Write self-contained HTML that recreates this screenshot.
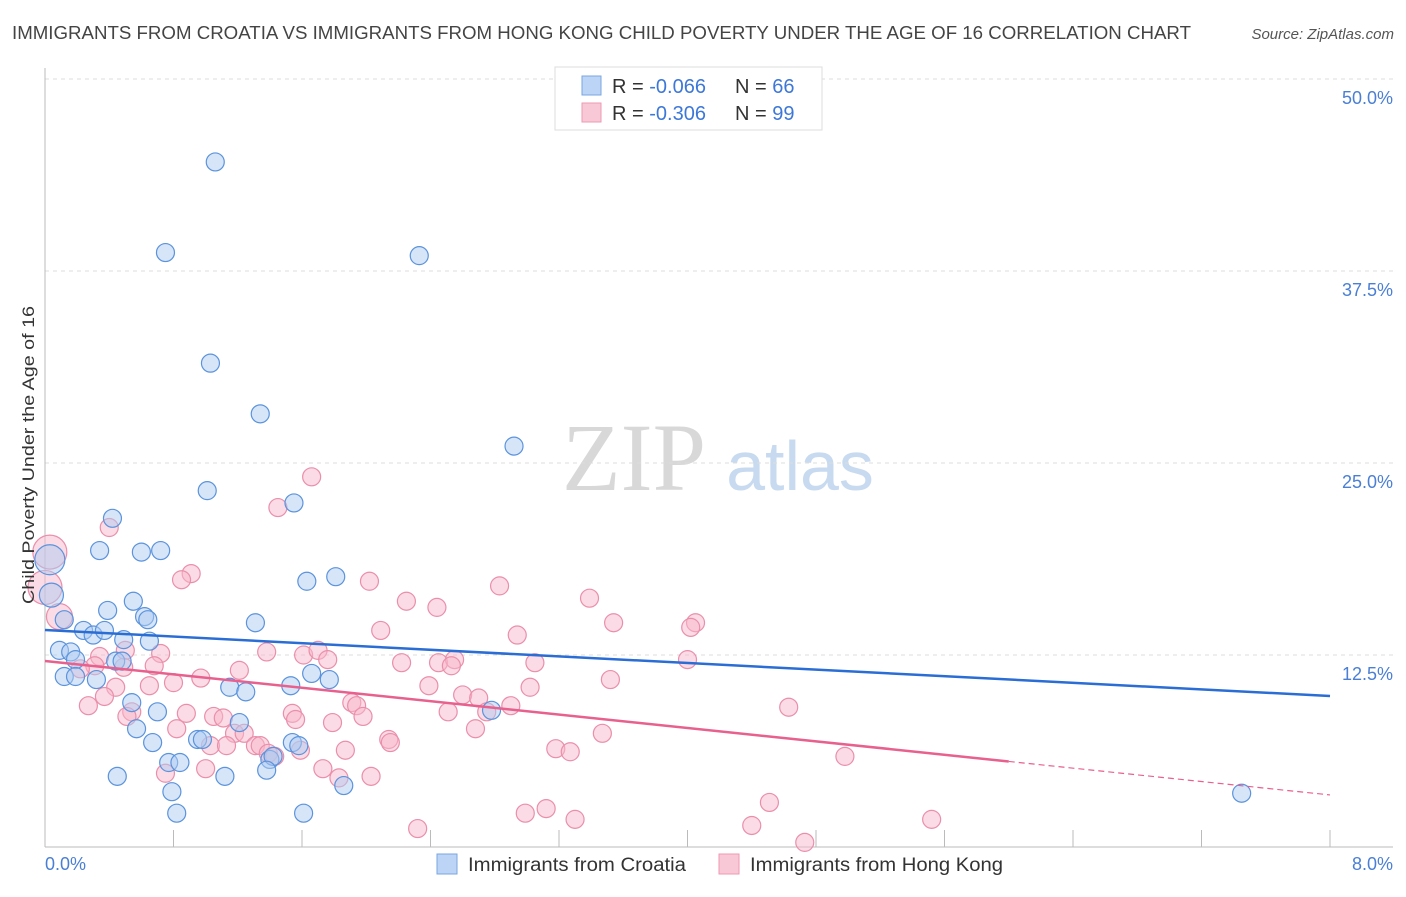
<!DOCTYPE html>
<html><head><meta charset="utf-8"><style>
body{margin:0;background:#fff;font-family:"Liberation Sans",sans-serif}
svg text{font-family:"Liberation Sans",sans-serif}
</style></head><body>
<svg id="c" width="1406" height="892">
<text x="12" y="39" font-size="18" fill="#444" textLength="1179" lengthAdjust="spacingAndGlyphs">IMMIGRANTS FROM CROATIA VS IMMIGRANTS FROM HONG KONG CHILD POVERTY UNDER THE AGE OF 16 CORRELATION CHART</text>
<text x="1394" y="39" font-size="15" fill="#555" font-style="italic" text-anchor="end">Source: ZipAtlas.com</text>
<text x="634" y="490" font-size="96" fill="#d8d8d8" text-anchor="middle" font-family="Liberation Serif" style="font-family:'Liberation Serif',serif">ZIP</text>
<text x="800" y="490" font-size="70" fill="#c8daf0" text-anchor="middle">atlas</text>
<g id="grid"></g><g id="pts"></g><g id="trend"></g>
<text transform="translate(34,455) rotate(-90)" font-size="17" fill="#333" text-anchor="middle" textLength="298" lengthAdjust="spacingAndGlyphs">Child Poverty Under the Age of 16</text>
<text x="45" y="870" font-size="18" fill="#4a7fd4">0.0%</text>
<text x="1393" y="870" font-size="18" fill="#4a7fd4" text-anchor="end">8.0%</text>
<g>
<rect x="555" y="67" width="267" height="63" fill="#fff" stroke="#ddd"/>
<rect x="582" y="76" width="19" height="19" fill="#bcd4f5" stroke="#7aa6e0"/>
<rect x="582" y="103" width="19" height="19" fill="#f9c8d6" stroke="#eb9ab2"/>
<text x="612" y="93" font-size="20" fill="#333">R = <tspan fill="#3d78d8">-0.066</tspan></text>
<text x="735" y="93" font-size="20" fill="#333">N = <tspan fill="#3d78d8">66</tspan></text>
<text x="612" y="120" font-size="20" fill="#333">R = <tspan fill="#3d78d8">-0.306</tspan></text>
<text x="735" y="120" font-size="20" fill="#333">N = <tspan fill="#3d78d8">99</tspan></text>
</g>
<g>
<rect x="437" y="854" width="20" height="20" fill="#bcd4f5" stroke="#7aa6e0"/>
<text x="468" y="871" font-size="19" fill="#333" textLength="218" lengthAdjust="spacingAndGlyphs">Immigrants from Croatia</text>
<rect x="719" y="854" width="20" height="20" fill="#f9c8d6" stroke="#eb9ab2"/>
<text x="750" y="871" font-size="19" fill="#333" textLength="253" lengthAdjust="spacingAndGlyphs">Immigrants from Hong Kong</text>
</g>
</svg>
<script>
const yTicks=[12.5,25,37.5,50];
const yTickLabels=["12.5%","25.0%","37.5%","50.0%"];
const xTicks=[0,0.8,1.6,2.4,3.2,4,4.8,5.6,6.4,7.2,8];
const blueX=[1.06,0.75,2.33,1.03,1.34,2.92,1.01,1.55,0.42,0.34,0.60,0.72,1.63,1.81,0.03,0.04,0.39,0.55,0.62,0.64,1.31,0.12,0.24,0.30,0.37,0.49,0.65,0.09,0.16,0.19,0.44,0.48,0.12,0.19,0.32,1.66,1.77,1.15,1.25,1.53,0.54,0.70,0.57,1.21,0.67,0.95,0.98,1.54,1.58,0.77,0.84,1.40,1.42,1.38,0.45,1.12,0.79,0.82,1.61,1.86,7.45,2.78];
const blueY=[44.6,38.7,38.5,31.5,28.2,26.1,23.2,22.4,21.4,19.3,19.2,19.3,17.3,17.6,18.7,16.4,15.4,16.0,15.0,14.8,14.6,14.8,14.1,13.8,14.1,13.5,13.4,12.8,12.7,12.2,12.1,12.1,11.1,11.1,10.9,11.3,10.9,10.4,10.1,10.5,9.4,8.8,7.7,8.1,6.8,7.0,7.0,6.8,6.6,5.5,5.5,5.7,5.9,5.0,4.6,4.6,3.6,2.2,2.2,4.0,3.5,8.9];
const pinkX=[0.03,0.0,0.09,1.66,1.45,0.40,0.91,0.85,2.83,2.02,3.39,2.25,2.44,3.54,4.05,4.02,2.94,2.09,0.72,1.38,1.61,1.70,1.76,2.22,2.45,2.55,2.53,3.05,4.00,0.50,0.34,0.31,0.22,0.49,0.68,1.21,0.97,0.80,0.65,2.39,2.60,2.70,3.02,3.52,0.44,0.37,0.27,0.54,0.51,0.88,1.91,1.94,1.54,1.56,1.98,2.51,2.75,2.90,4.63,1.05,1.11,1.79,2.68,0.82,1.18,1.24,2.14,2.15,1.03,1.13,1.31,1.34,1.39,1.43,1.59,1.87,3.18,3.27,3.47,4.98,0.75,1.00,1.73,1.83,2.03,4.51,3.12,2.99,3.30,4.40,5.52,2.32,4.73];
const pinkY=[19.2,16.9,15.0,24.1,22.1,20.8,17.8,17.4,17.0,17.3,16.2,16.0,15.6,14.6,14.6,14.3,13.8,14.1,12.6,12.7,12.5,12.8,12.2,12.0,12.0,12.2,11.8,12.0,12.2,12.8,12.4,11.8,11.6,11.7,11.8,11.5,11.0,10.7,10.5,10.5,9.9,9.7,10.4,10.9,10.4,9.8,9.2,8.8,8.5,8.7,9.4,9.2,8.7,8.3,8.5,8.8,8.8,9.2,9.1,8.5,8.4,8.1,7.7,7.7,7.4,7.4,7.0,6.8,6.6,6.6,6.6,6.6,6.1,5.9,6.3,6.3,6.4,6.2,7.4,5.9,4.8,5.1,5.1,4.5,4.6,2.9,2.5,2.2,1.8,1.4,1.8,1.2,0.3];
const blueTrend=[14.13,9.83];
const pinkTrend=[12.11,3.39];
const pinkSolidEnd=6.0;
const NS="http://www.w3.org/2000/svg";
const X=v=>45+v/8*1285, Y=v=>847-v*15.36;
function mk(t,a,p){const e=document.createElementNS(NS,t);for(const k in a)e.setAttribute(k,a[k]);p.appendChild(e);return e;}
const grid=document.getElementById('grid');
yTicks.forEach((t,i)=>{
 const l=mk('line',{x1:45,x2:1393,y1:Y(t),y2:Y(t),stroke:'#ddd','stroke-dasharray':'4,4'},grid);
 
 
 const tx=mk('text',{x:1393,y:Y(t)+25,'font-size':18,fill:'#4a7fd4','text-anchor':'end'},grid);
 tx.textContent=yTickLabels[i];
 
 
});
const ax=mk('line',{x1:45,x2:45,y1:68,y2:847,stroke:'#bbb'},grid);


const bx=mk('line',{x1:45,x2:1393,y1:847,y2:847,stroke:'#bbb'},grid);


xTicks.forEach(t=>{
 const l=mk('line',{x1:X(t),x2:X(t),y1:830,y2:847,stroke:'#bbb'},grid);
 
 
});
const pts=document.getElementById('pts');
function draw(xs,ys,fill,stroke,name,big){
 xs.forEach((x,i)=>{
  const c=mk('circle',{cx:X(x),cy:Y(ys[i]),r:big[i]||9,fill:fill,'fill-opacity':0.5,stroke:stroke,'stroke-width':1.2},pts);
  
  
 });
}
draw(pinkX,pinkY,'#f7b8cb','#ea8fab','hongkong-point',{0:17,1:17,2:13});
draw(blueX,blueY,'#aecbf2','#5b93dc','croatia-point',{14:15,15:12});
const tr=document.getElementById('trend');
const b=mk('line',{x1:X(0),y1:Y(blueTrend[0]),x2:X(8),y2:Y(blueTrend[1]),stroke:'#2a6dd4','stroke-width':2.5},tr);


const py=v=>pinkTrend[0]+(pinkTrend[1]-pinkTrend[0])*v/8;
const p=mk('line',{x1:X(0),y1:Y(pinkTrend[0]),x2:X(pinkSolidEnd),y2:Y(py(pinkSolidEnd)),stroke:'#e8608e','stroke-width':2.5},tr);


const pd=mk('line',{x1:X(pinkSolidEnd),y1:Y(py(pinkSolidEnd)),x2:X(8),y2:Y(pinkTrend[1]),stroke:'#e8608e','stroke-width':1.2,'stroke-dasharray':'6,4'},tr);


</script>
</body></html>
